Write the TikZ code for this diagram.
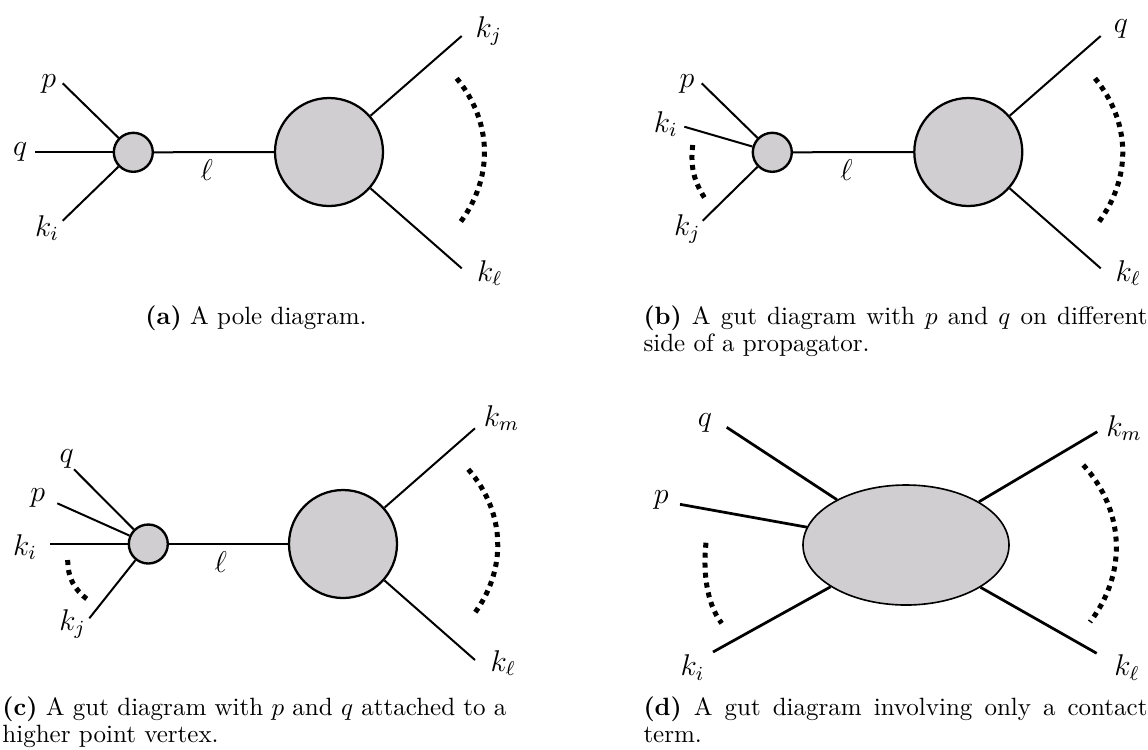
\documentclass[tikz,border=0pt]{standalone}
\usetikzlibrary{shapes.geometric}
\definecolor{blobgray}{RGB}{208,206,208}
\begin{document}
\begin{tikzpicture}[x=0.4pt,y=-0.4pt,
  leg/.style={line width=0.8pt},
  thickleg/.style={line width=1.1pt},
  dotarc/.style={line width=2pt, dash pattern=on 2pt off 2pt},
  smallblob/.style={circle, draw, fill=blobgray, line width=0.95pt, minimum size=15.6pt, inner sep=0pt},
  bigblob/.style={circle, draw, fill=blobgray, line width=0.9pt, minimum size=43.2pt, inner sep=0pt},
  contact/.style={ellipse, draw, fill=blobgray, line width=0.65pt, minimum width=82.4pt, minimum height=48pt, inner sep=0pt},
  lab/.style={inner sep=0pt, font=\fontsize{12}{14}\selectfont},
  capline/.style={inner sep=0pt, anchor=base west, font=\fontsize{10}{12}\selectfont},
  capmid/.style={inner sep=0pt, anchor=base, font=\fontsize{10}{12}\selectfont}
]
\useasboundingbox (0,0) rectangle (1148,749);

% ---------------- panel (a)
\node[smallblob] (sa) at (133.3,152.3) {};
\node[bigblob] (ba) at (329,152) {};
\coordinate (ap) at (62.7,83.3);
\coordinate (aq) at (35,152.3);
\coordinate (aki) at (62.7,220.7);
\coordinate (akj) at (461.7,36);
\coordinate (akl) at (461.7,268.3);
\coordinate (aarcs) at (456.7,78.3);
\coordinate (aarce) at (460,222.7);
\draw[leg] (ap) -- (sa);
\draw[leg] (aq) -- (sa);
\draw[leg] (aki) -- (sa);
\draw[leg] (sa) -- (ba);
\draw[leg] (ba) -- (akj);
\draw[leg] (ba) -- (akl);
\draw[dotarc] (aarcs) to[bend left=38] (aarce);
\node[lab] (lap) at (48.8,84) {$p$};
\node[lab] (laq) at (20.3,151.7) {$q$};
\node[lab] (laki) at (47,228) {$k_i$};
\node[lab] (lal) at (206.7,170) {$\ell$};
\node[lab] (lakj) at (488.8,30.8) {$k_j$};
\node[lab] (lakl) at (489.7,273.3) {$k_\ell$};
\node[capmid] (capa) at (256,324) {\textbf{(a)} A pole diagram.};

% ---------------- panel (b)
\node[smallblob] (sb) at (772.3,152.3) {};
\node[bigblob] (bb) at (968.3,152) {};
\coordinate (bp) at (701.7,83.3);
\coordinate (bki) at (684.3,126.7);
\coordinate (bkj) at (702.7,220.7);
\coordinate (bq) at (1100.7,36);
\coordinate (bkl) at (1100.7,268.3);
\coordinate (blarcs) at (692.7,145);
\coordinate (blarce) at (706,200);
\coordinate (brarcs) at (1095,78.3);
\coordinate (brarce) at (1098.3,222.7);
\draw[leg] (bp) -- (sb);
\draw[leg] (bki) -- (sb);
\draw[leg] (bkj) -- (sb);
\draw[leg] (sb) -- (bb);
\draw[leg] (bb) -- (bq);
\draw[leg] (bb) -- (bkl);
\draw[dotarc] (blarcs) to[bend right=20] (blarce);
\draw[dotarc] (brarcs) to[bend left=38] (brarce);
\node[lab] (lbp) at (687,84) {$p$};
\node[lab] (lbki) at (665.8,124.2) {$k_i$};
\node[lab] (lbkj) at (687.2,229) {$k_j$};
\node[lab] (lbl) at (846.5,170) {$\ell$};
\node[lab] (lbq) at (1121,29) {$q$};
\node[lab] (lbkl) at (1128.3,273.3) {$k_\ell$};
\node[capline] (capb1) at (643,324) {\makebox[201.6pt][s]{\textbf{(b)} A gut diagram with $p$ and $q$ on different}};
\node[capline] (capb2) at (643,351) {side of a propagator.};

% ---------------- panel (c)
\node[smallblob] (sc) at (148.3,544) {};
\node[bigblob] (bc) at (343,544) {};
\coordinate (cq) at (74,469.3);
\coordinate (cp) at (57.3,503.3);
\coordinate (cki) at (50,544);
\coordinate (ckj) at (89.3,618.3);
\coordinate (ckm) at (475,428.3);
\coordinate (ckl) at (475,660);
\coordinate (clarcs) at (67.7,560);
\coordinate (clarce) at (88.3,600);
\coordinate (crarcs) at (468.3,469.3);
\coordinate (crarce) at (473.3,615);
\draw[leg] (cq) -- (sc);
\draw[leg] (cp) -- (sc);
\draw[leg] (cki) -- (sc);
\draw[leg] (ckj) -- (sc);
\draw[leg] (sc) -- (bc);
\draw[leg] (bc) -- (ckm);
\draw[leg] (bc) -- (ckl);
\draw[dotarc] (clarcs) to[bend right=27] (clarce);
\draw[dotarc] (crarcs) to[bend left=39] (crarce);
\node[lab] (lcq) at (66.7,459) {$q$};
\node[lab] (lcp) at (37.8,498.3) {$p$};
\node[lab] (lcki) at (25,547) {$k_i$};
\node[lab] (lckj) at (72.5,624) {$k_j$};
\node[lab] (lcl) at (220.8,561.7) {$\ell$};
\node[lab] (lckm) at (501.5,418.3) {$k_m$};
\node[lab] (lckl) at (503.3,663.3) {$k_\ell$};
\node[capline] (capc1) at (2,715) {\makebox[201.6pt][s]{\textbf{(c)} A gut diagram with $p$ and $q$ attached to a}};
\node[capline] (capc2) at (2,742) {higher point vertex.};

% ---------------- panel (d)
\node[contact] (el) at (906,545) {};
\coordinate (dq) at (726.7,427.3);
\coordinate (dp) at (680,504.3);
\coordinate (dki) at (713,652);
\coordinate (dkm) at (1097.3,431.7);
\coordinate (dkl) at (1096.7,653.3);
\coordinate (dlarcs) at (706,542.7);
\coordinate (dlarce) at (721.7,623.3);
\coordinate (drarcs) at (1083.3,465);
\coordinate (drarce) at (1090,622);
\draw[thickleg] (dq) -- (el);
\draw[thickleg] (dp) -- (el);
\draw[thickleg] (dki) -- (el);
\draw[thickleg] (el) -- (dkm);
\draw[thickleg] (el) -- (dkl);
\draw[dotarc] (dlarcs) .. controls (703,570) and (706,603) .. (dlarce);
\draw[dotarc] (drarcs) to[bend left=40] (drarce);
\node[lab] (ldq) at (705,422.5) {$q$};
\node[lab] (ldp) at (661.3,500) {$p$};
\node[lab] (ldki) at (692.6,667.5) {$k_i$};
\node[lab] (ldkm) at (1124,428.3) {$k_m$};
\node[lab] (ldkl) at (1127,667.5) {$k_\ell$};
\node[capline] (capd1) at (643,715) {\makebox[201.6pt][s]{\textbf{(d)} A gut diagram involving only a contact}};
\node[capline] (capd2) at (643,742) {term.};
\end{tikzpicture}
\end{document}
